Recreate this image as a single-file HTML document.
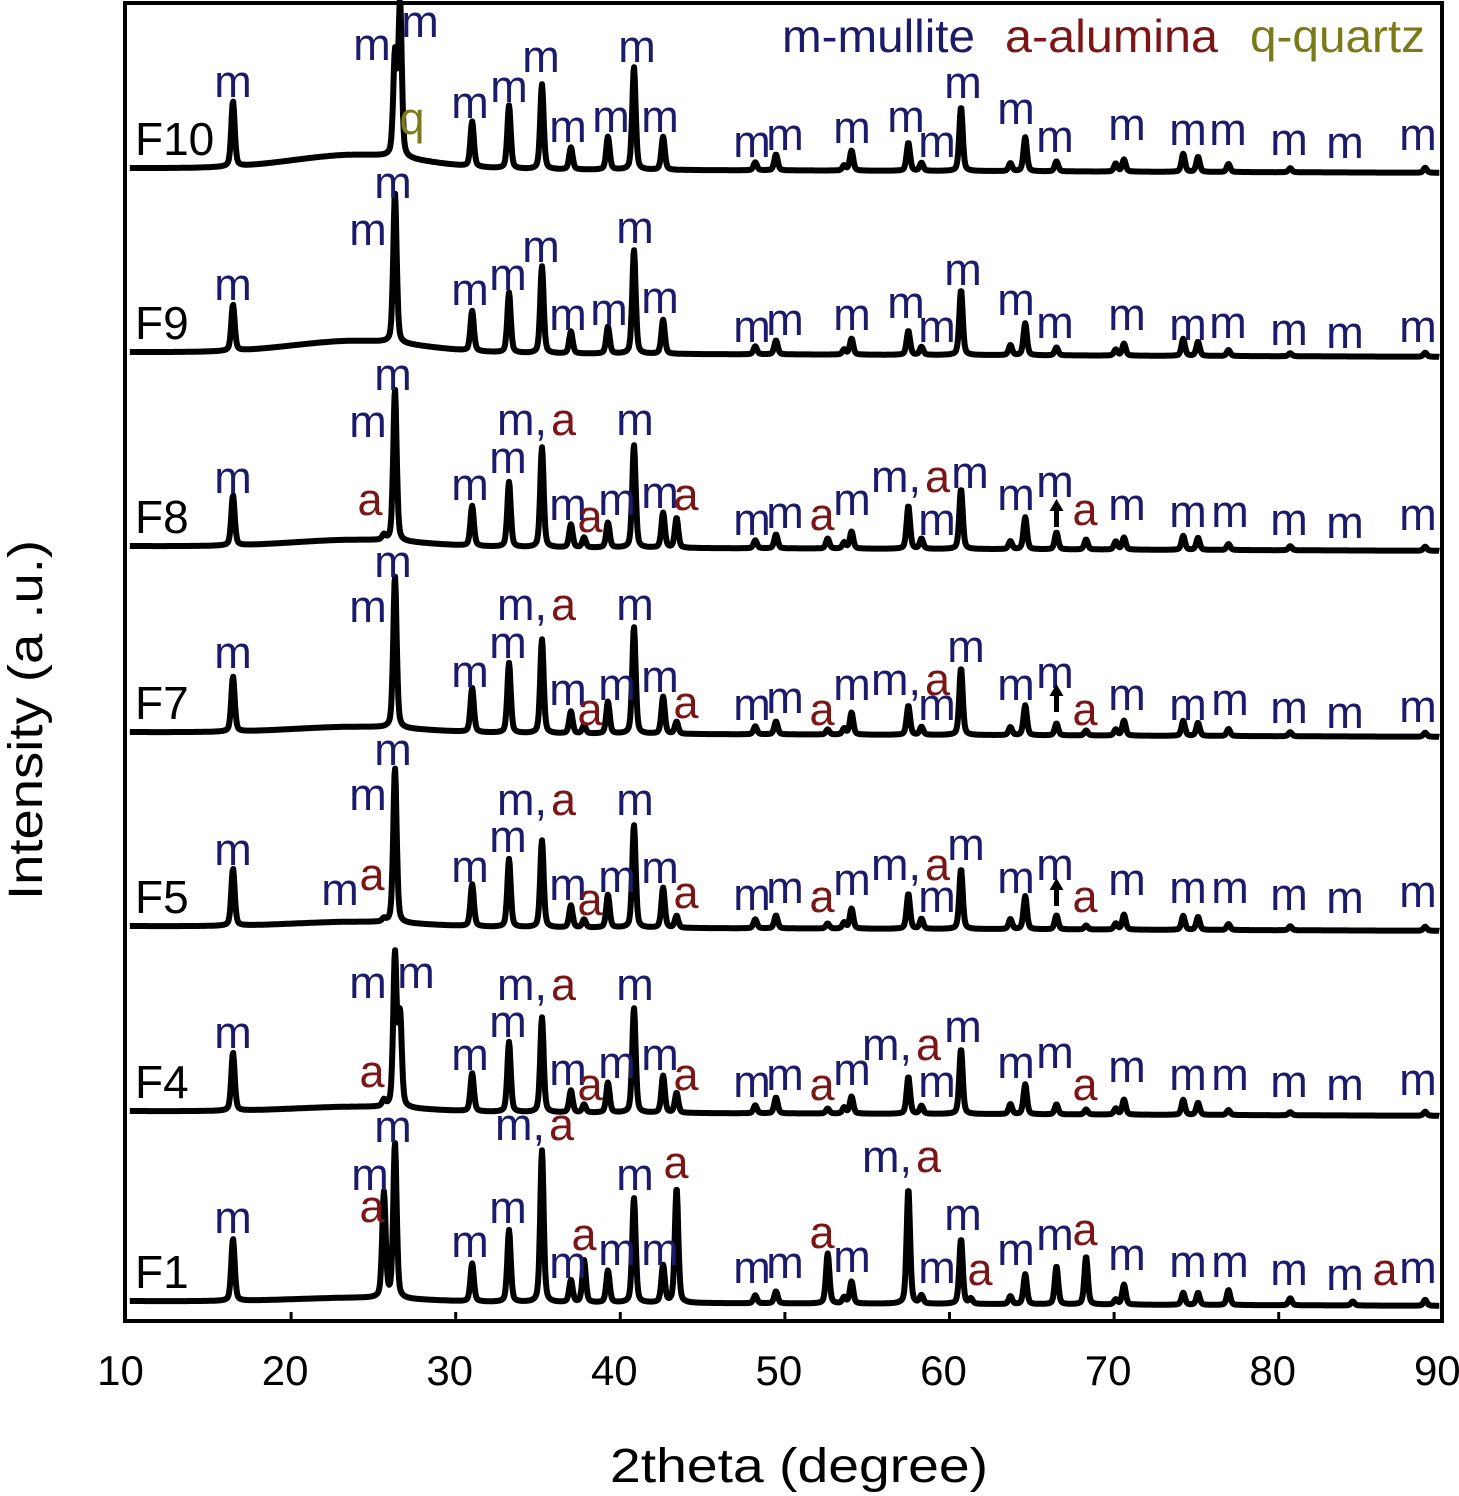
<!DOCTYPE html>
<html><head><meta charset="utf-8"><style>
html,body{margin:0;padding:0;background:#fff;}
svg{display:block;font-family:"Liberation Sans",Arial,sans-serif;}
</style></head><body>
<svg id="chart" width="1459" height="1496" viewBox="0 0 1459 1496" xmlns="http://www.w3.org/2000/svg">
<rect x="0" y="0" width="1459" height="1496" fill="#fff"/>
<g id="traces"></g>
<g id="labels"></g>
<rect x="125" y="3" width="1317" height="1318" fill="none" stroke="#000" stroke-width="4"/>
<g id="ticks"></g>
<text x="799" y="1482" font-size="48" text-anchor="middle" textLength="378" lengthAdjust="spacingAndGlyphs">2theta (degree)</text>
<text transform="translate(42,720) rotate(-90)" font-size="48" text-anchor="middle" textLength="360" lengthAdjust="spacingAndGlyphs">Intensity (a .u.)</text>
<g font-size="46">
<text x="782" y="52" fill="#1b1a6b" textLength="193" lengthAdjust="spacingAndGlyphs">m-mullite</text>
<text x="1005" y="52" fill="#7a1616" textLength="213" lengthAdjust="spacingAndGlyphs">a-alumina</text>
<text x="1250" y="52" fill="#7a7a18" textLength="175" lengthAdjust="spacingAndGlyphs">q-quartz</text>
</g>
</svg>
<script>
const peakPos=[16.47,25.64,26.31,26.62,31.0,33.24,35.24,37.0,37.8,39.25,40.83,42.6,43.42,48.2,49.46,52.6,53.6,54.05,57.5,58.3,60.7,61.3,63.7,64.6,66.5,68.3,70.1,70.6,74.2,75.1,76.95,80.7,84.5,88.9];
const sampleNames=['F10','F9','F8','F7','F5','F4','F1'];
const baseLevels=[168,352,546,732,926,1111,1301];
const humpLevels=[14,12,7,6,5,5,4];
const hF10=[65,0,100,152,45,63,85,22,0,33,103,33,0,8,16,0,5,20,28,8,64,0,8,34,10,0,8,12,18,15,8,4,0,5];
const hF9=[46,0,150,0,40,60,87,22,0,27,104,34,0,8,14,0,5,16,24,8,65,0,10,32,8,0,6,12,17,14,6,3,0,4];
const hF8=[50,5,152,0,40,65,100,23,10,25,103,35,30,8,14,10,6,17,43,10,60,0,8,32,17,10,8,12,14,12,6,4,0,4];
const hF7=[55,0,152,0,44,70,94,22,8,32,107,37,12,8,13,5,6,22,29,8,67,0,8,30,12,5,6,15,15,13,7,4,0,4];
const hF5=[57,3,155,0,42,68,87,22,8,33,103,40,12,9,13,5,6,20,35,10,60,0,10,33,14,4,6,15,14,13,6,4,0,4];
const hF4=[58,6,152,90,38,70,95,22,8,30,105,37,20,8,16,5,6,17,37,8,65,0,10,30,10,5,6,15,15,12,5,3,0,4];
const hF1=[62,105,155,0,38,72,152,22,42,32,105,37,115,8,12,50,6,22,115,8,65,5,8,30,38,48,5,20,12,12,15,7,4,6];
const heights=[hF10,hF9,hF8,hF7,hF5,hF4,hF1];

const NS='http://www.w3.org/2000/svg';
function xScale(d){return 126.5+(d-10)*16.46;}
function profile(d,p){const w=0.25;const t=(d-p)/w;return 0.6*Math.exp(-4*Math.LN2*t*t)+0.4/(1+4*t*t);}
const tg=document.getElementById('traces');
for(let s=0;s<sampleNames.length;s++){
  let pts=[];
  for(let d=10.2;d<=89.8;d+=0.04){
    let v=humpLevels[s]*Math.exp(-Math.pow((d-24)/5.5,2))-(d-10)*0.06;
    for(let k=0;k<peakPos.length;k++){if(heights[s][k]>0&&Math.abs(d-peakPos[k])<4)v+=heights[s][k]*profile(d,peakPos[k]);}
    pts.push(xScale(d).toFixed(1)+','+(baseLevels[s]-v).toFixed(1));
  }
  const pl=document.createElementNS(NS,'polyline');
  pl.setAttribute('points',pts.join(' '));
  pl.setAttribute('fill','none');pl.setAttribute('stroke','#000');pl.setAttribute('stroke-width','6');pl.setAttribute('stroke-linejoin','round');
  
  
  tg.appendChild(pl);
  const t=document.createElementNS(NS,'text');
  t.setAttribute('x','135');t.setAttribute('y',String(baseLevels[s]-13));t.setAttribute('font-size','46');
  t.textContent=sampleNames[s];
  
  
  tg.appendChild(t);
}
const tk=document.getElementById('ticks');
const tickVals=[10,20,30,40,50,60,70,80,90];
tickVals.forEach(v=>{
  const x=xScale(v);
  if(v>10&&v<90){const l=document.createElementNS(NS,'line');
  l.setAttribute('x1',x);l.setAttribute('x2',x);l.setAttribute('y1',1321);l.setAttribute('y2',1312);l.setAttribute('stroke','#000');l.setAttribute('stroke-width','3');
  
  
  tk.appendChild(l);}
  const t=document.createElementNS(NS,'text');
  t.setAttribute('x',x-6);t.setAttribute('y',1385);t.setAttribute('font-size','42');t.setAttribute('text-anchor','middle');
  t.textContent=String(v);
  
  
  tk.appendChild(t);
});
const M='#1b1a6b',A='#7a1616',Q='#7a7a18';
const labelsF10=[['m',233,97],['m',372,60],['m',420,37],['q',412,134],['m',470,118],['m',509,102],['m',541,72],['m',568,142],['m',611,132],['m',637,62],['m',660,132],['m',752,157],['m',785,150],['m',852,143],['m',906,132],['m',937,157],['m',963,98],['m',1016,124],['m',1055,152],['m',1127,140],['m',1188,145],['m',1228,145],['m',1289,155],['m',1345,158],['m',1418,150]];
const labelsF9=[['m',233,300],['m',368,245],['m',393,198],['m',470,305],['m',508,290],['m',541,262],['m',568,330],['m',609,325],['m',635,243],['m',660,313],['m',752,342],['m',785,335],['m',852,330],['m',906,318],['m',937,342],['m',963,285],['m',1016,315],['m',1055,338],['m',1127,330],['m',1188,340],['m',1228,338],['m',1289,345],['m',1345,348],['m',1418,342]];
const labelsF8=[['m',233,493],['a',370,515],['m',368,437],['m',393,390],['m',470,500],['m',508,473],['ma',497,435],['m',568,520],['a',590,532],['m',617,515],['m',635,435],['m',660,508],['a',686,510],['m',752,535],['m',785,528],['a',822,530],['m',852,515],['ma',871,492],['m',970,488],['m',937,535],['m',1016,510],['m',1055,497],['a',1085,525],['m',1127,520],['m',1188,527],['m',1230,527],['m',1289,535],['m',1345,538],['m',1418,530]];
const labelsF7=[['m',233,668],['m',368,622],['m',393,577],['m',470,687],['m',508,658],['ma',497,620],['m',568,705],['a',590,725],['m',617,700],['m',635,620],['m',660,692],['a',686,718],['m',752,720],['m',785,713],['a',822,725],['m',852,700],['ma',871,695],['m',966,662],['m',937,720],['m',1016,700],['m',1055,688],['a',1085,725],['m',1127,710],['m',1188,720],['m',1230,715],['m',1289,723],['m',1345,728],['m',1418,722]];
const labelsF5=[['m',233,865],['m',340,905],['a',372,890],['m',368,810],['m',393,765],['m',470,882],['m',508,852],['ma',497,815],['m',568,900],['a',590,915],['m',617,892],['m',635,815],['m',660,883],['a',686,908],['m',752,910],['m',785,903],['a',822,912],['m',852,895],['ma',871,880],['m',966,860],['m',937,912],['m',1016,893],['m',1055,880],['a',1085,912],['m',1127,895],['m',1188,903],['m',1230,903],['m',1289,910],['m',1345,913],['m',1418,907]];
const labelsF4=[['m',233,1048],['a',372,1087],['m',368,998],['m',416,988],['m',470,1070],['m',508,1037],['ma',497,1000],['m',568,1085],['a',590,1100],['m',617,1078],['m',635,1000],['m',660,1070],['a',686,1090],['m',752,1097],['m',785,1090],['a',822,1100],['m',852,1085],['ma',862,1060],['m',963,1042],['m',937,1097],['m',1016,1078],['m',1055,1068],['a',1085,1100],['m',1127,1082],['m',1188,1090],['m',1230,1090],['m',1289,1097],['m',1345,1100],['m',1418,1095]];
const labelsF1=[['m',233,1233],['a',372,1222],['m',370,1190],['m',393,1142],['m',470,1257],['m',508,1223],['ma',495,1140],['m',568,1278],['a',584,1250],['m',617,1265],['m',635,1190],['a',676,1178],['m',660,1265],['m',752,1283],['m',785,1278],['a',822,1248],['m',852,1272],['ma',862,1172],['m',937,1283],['m',963,1230],['a',980,1285],['m',1016,1265],['m',1055,1250],['a',1085,1245],['m',1127,1270],['m',1188,1277],['m',1230,1277],['m',1289,1285],['m',1345,1290],['a',1385,1285],['m',1418,1283]];
const allLabels=[labelsF10,labelsF9,labelsF8,labelsF7,labelsF5,labelsF4,labelsF1];
const lg=document.getElementById('labels');
allLabels.forEach(arr=>arr.forEach(l=>{
  const t=document.createElementNS(NS,'text');
  t.setAttribute('font-size','45');t.setAttribute('x',l[1]);t.setAttribute('y',l[2]);
  if(l[0]==='ma'){
    const s1=document.createElementNS(NS,'tspan');s1.setAttribute('fill',M);s1.textContent='m,';
    const s2=document.createElementNS(NS,'tspan');s2.setAttribute('fill',A);s2.setAttribute('dx','4');s2.textContent='a';
    t.appendChild(s1);t.appendChild(s2);
  } else {
    t.setAttribute('text-anchor','middle');
    t.setAttribute('fill',l[0]==='m'?M:(l[0]==='a'?A:Q));
    t.textContent=l[0];
  }
  
  
  lg.appendChild(t);
}));
const arrowY=[527,712,906];
arrowY.forEach(y=>{
  const p=document.createElementNS(NS,'path');
  const x=xScale(66.5);
  p.setAttribute('d',`M${x-2.5} ${y} L${x-2.5} ${y-16} L${x-7} ${y-16} L${x} ${y-28} L${x+7} ${y-16} L${x+2.5} ${y-16} L${x+2.5} ${y} Z`);
  p.setAttribute('fill','#000');
  
  
  lg.appendChild(p);
});
</script>
</body></html>
